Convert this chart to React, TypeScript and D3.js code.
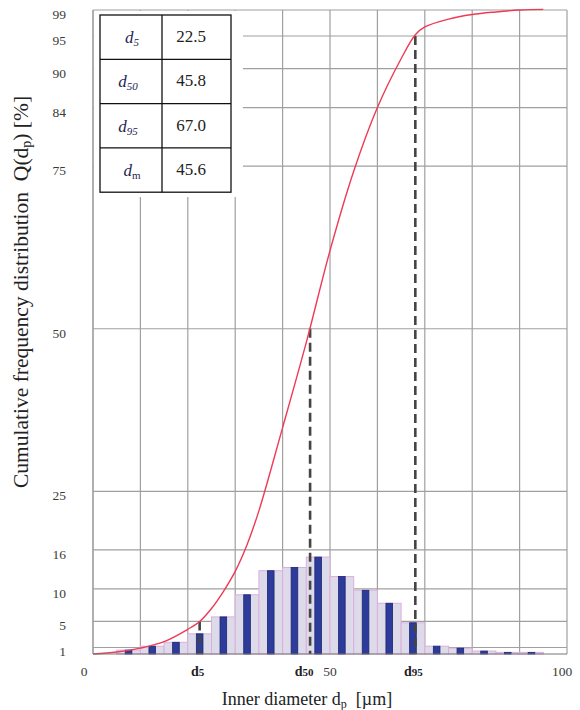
import React from 'react';
import { scaleLinear, line, curveCatmullRom } from 'd3';

// histogram: 5 µm bins, frequency in %
const binStarts = [5, 10, 15, 20, 25, 30, 35, 40, 45, 50, 55, 60, 65, 70, 75, 80, 85, 90];
const binFreq = [0.6, 1.2, 1.8, 3.1, 5.7, 9.1, 12.8, 13.3, 14.9, 11.9, 9.8, 7.8, 4.8, 1.2, 0.9, 0.45, 0.25, 0.25];

// cumulative curve Q(dp)
const cumX = [0, 5, 10, 15, 20, 22.5, 25, 27.5, 30, 32.5, 35, 40, 45, 50, 55, 60, 65, 68, 70, 75, 80, 85, 90, 95];
const cumQ = [0, 0.3, 0.9, 1.9, 3.8, 5.0, 7.0, 9.6, 12.7, 16.8, 22.0, 34.8, 47.9, 62.0, 74.2, 84.0, 91.5, 95.2, 96.4, 97.6, 98.3, 98.7, 99.0, 99.1];

const yTicks = [1, 5, 10, 16, 25, 50, 75, 84, 90, 95, 99];
const xGrid = [0, 10, 20, 30, 40, 50, 60, 70, 80, 90, 100];
const xTickLabels = [0, 50, 100];

// d5, d50, d95 markers
const markerSub = ['5', '50', '95'];
const markerX = [22.5, 45.8, 68.0];
const markerQ = [5, 50, 95];

// summary table
const tableSub = ['5', '50', '95', 'm'];
const tableValues = ['22.5', '45.8', '67.0', '45.6'];

const font = '"Liberation Serif", "Times New Roman", serif';
const gridColor = '#a0a0a0';

const App = () => {
  const width = 580;
  const height = 710;
  const margin = { top: 10, right: 13, bottom: 56, left: 93 };

  const xScale = scaleLinear().domain([0, 100]).range([margin.left, width - margin.right]);
  const yScale = scaleLinear().domain([0, 99]).range([height - margin.bottom, margin.top]);

  const x0 = xScale(0), x1 = xScale(100);
  const y0 = yScale(0), y1 = yScale(99);

  const redLine = line<number>()
    .x((d, i) => xScale(cumX[i]))
    .y(d => yScale(d))
    .curve(curveCatmullRom.alpha(0.5));

  const darkW = xScale(1.4) - xScale(0);

  // table geometry
  const tLeft = 100, tRight = 231, tMid = 162, tTop = 15, rowH = 44.3;

  return (
    <svg width={width} height={height} style={{ position: 'absolute', left: 0, top: 0, background: '#fff' }}
      fontFamily={font}>
      {/* grid */}
      {xGrid.map(v => (
        <line key={'vx' + v} x1={xScale(v)} x2={xScale(v)} y1={y1} y2={y0} stroke={gridColor} strokeWidth={1.2} />
      ))}
      {yTicks.map(v => (
        <line key={'hy' + v} x1={x0} x2={x1} y1={yScale(v)} y2={yScale(v)} stroke={gridColor} strokeWidth={1.2} />
      ))}

      {/* histogram */}
      {binStarts.map((s, i) => (
        <rect key={'l' + s}
          x={xScale(s)} y={yScale(binFreq[i])}
          width={xScale(s + 5) - xScale(s)} height={y0 - yScale(binFreq[i])}
          fill="#dddbe9" stroke="#dcaedc" strokeWidth={1} />
      ))}
      {binStarts.map((s, i) => (
        <rect key={'d' + s}
          x={xScale(s + 2.5) - darkW / 2} y={yScale(binFreq[i])}
          width={darkW} height={y0 - yScale(binFreq[i])}
          fill="#2d3c9a" stroke="#1d2670" strokeWidth={0.8} />
      ))}

      {/* dashed markers */}
      {markerX.map((m, i) => (
        <line key={'m' + i} x1={xScale(m)} x2={xScale(m)} y1={yScale(markerQ[i])} y2={y0}
          stroke="#444" strokeWidth={2.6} strokeDasharray="9,5" />
      ))}

      {/* cumulative curve */}
      <path d={redLine(cumQ) || ''} fill="none" stroke="#ee3a55" strokeWidth={1.4} />

      {/* frame */}
      <line x1={x0} x2={x0} y1={y1} y2={y0} stroke={gridColor} strokeWidth={1.2} />
      <line x1={x0} x2={x1} y1={y0} y2={y0} stroke="#777" strokeWidth={1.2} />

      {/* table */}
      <rect x={x0 + 1} y={y1 + 1} width={242 - x0} height={196 - y1} fill="#fff" />
      <rect x={tLeft} y={tTop} width={tRight - tLeft} height={rowH * 4} fill="none" stroke="#111" strokeWidth={1.3} />
      <line x1={tMid} x2={tMid} y1={tTop} y2={tTop + rowH * 4} stroke="#111" strokeWidth={1.3} />
      {tableSub.map((s, i) => (
        <g key={'t' + s}>
          {i > 0 && <line x1={tLeft} x2={tRight} y1={tTop + rowH * i} y2={tTop + rowH * i} stroke="#111" strokeWidth={1.3} />}
          <text x={s.length > 1 ? 128 : 132} y={tTop + rowH * i + rowH / 2 + 6} textAnchor="middle" fontSize={17} fill="#1e2550">
            <tspan fontStyle="italic">d</tspan>
            <tspan fontSize={11} dy={3} fontStyle={s === 'm' ? 'normal' : 'italic'}>{s}</tspan>
          </text>
          <text x={191} y={tTop + rowH * i + rowH / 2 + 5} textAnchor="middle" fontSize={17} fill="#222">
            {tableValues[i]}
          </text>
        </g>
      ))}

      {/* y tick labels */}
      {yTicks.map(v => (
        <text key={'yl' + v} x={66} y={yScale(v) + 9} textAnchor="end" fontSize={13.5} fill="#3a3a3a">{v}</text>
      ))}

      {/* x tick labels */}
      {xTickLabels.map(v => (
        <text key={'xl' + v} x={xScale(v) + (v === 0 ? -9 : v === 100 ? -5 : 0)} y={676} textAnchor="middle" fontSize={13.5} fill="#3a3a3a">{v}</text>
      ))}
      {markerX.map((m, i) => (
        <text key={'ml' + i} x={xScale(m) - (i === 1 ? 6 : 2)} y={676} textAnchor="middle" fontSize={14} fontWeight="bold" fill="#222">
          d<tspan fontSize={11}>{markerSub[i]}</tspan>
        </text>
      ))}

      {/* axis titles */}
      <text x={307} y={705} textAnchor="middle" fontSize={18} fill="#222">
        Inner diameter d<tspan fontSize={12} dy={3}>p</tspan><tspan dy={-3}>{'\u00a0 [\u00b5m]'}</tspan>
      </text>
      <text transform="translate(28, 292) rotate(-90)" textAnchor="middle" fontSize={21.5} fill="#222">
        Cumulative frequency distribution{'\u00a0\u00a0'}Q(d<tspan fontSize={14} dy={3}>p</tspan><tspan dy={-3}>) [%]</tspan>
      </text>
    </svg>
  );
};

export default App;
